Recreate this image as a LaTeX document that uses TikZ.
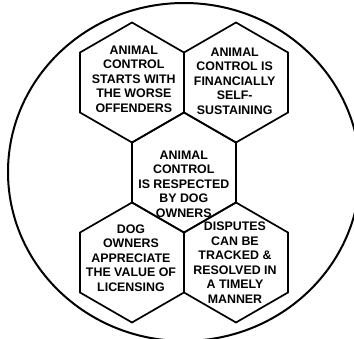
\documentclass[tikz,border=0pt]{standalone}
\usepackage{fontspec}
\setmainfont{Liberation Sans}
\usetikzlibrary{shapes.geometric}
\begin{document}
\begin{tikzpicture}[x=1pt,y=-1pt,
  hexa/.style={regular polygon, regular polygon sides=6, shape border rotate=30,
    minimum size=120pt, inner sep=0pt, outer sep=0pt, draw=black, line width=1.7pt, line join=miter},
  ring/.style={ellipse, draw=black, line width=2pt, inner sep=0pt, outer sep=0pt,
    minimum width=352pt, minimum height=338pt},
  lbl/.style={align=center, font=\fontsize{12.4}{14.5}\selectfont\bfseries, inner sep=0pt, text=black}]
\clip (0,0) rectangle (354,339);
\fill[white] (0,0) rectangle (354,339);
\node[ring] (outer) at (184,172) {};
\node[hexa] (h1) at (132,82.5) {};
\node[hexa] (h2) at (236,82.5) {};
\node[hexa] (h3) at (184,172.5) {};
\node[hexa] (h4) at (132,262.5) {};
\node[hexa] (h5) at (236,262.5) {};
\node[lbl] (t1) at (133.8,79.2) {ANIMAL\\CONTROL\\STARTS WITH\\THE WORSE\\OFFENDERS};
\node[lbl] (t2) at (234.7,81.2) {ANIMAL\\CONTROL IS\\FINANCIALLY\\SELF-\\SUSTAINING};
\node[lbl] (t3) at (183.8,184.2) {ANIMAL\\CONTROL\\IS RESPECTED\\BY DOG\\OWNERS};
\node[lbl] (t4) at (131,258) {DOG\\OWNERS\\APPRECIATE\\THE VALUE OF\\LICENSING};
\node[lbl] (t5) at (235,262.5) {DISPUTES\\CAN BE\\TRACKED \&\\RESOLVED IN\\A TIMELY\\MANNER};
\end{tikzpicture}
\end{document}
